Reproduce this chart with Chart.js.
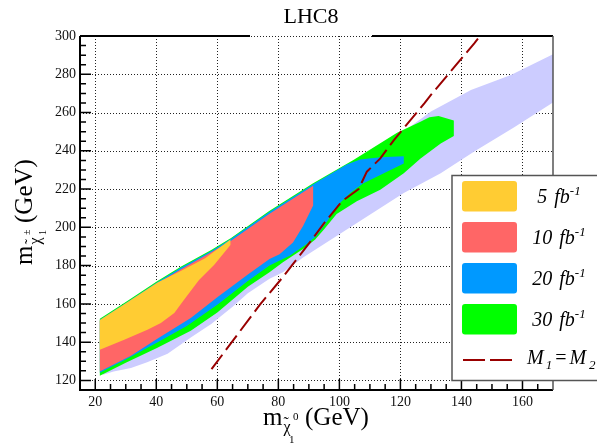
<!DOCTYPE html>
<html>
<head>
<meta charset="utf-8">
<script src="https://cdn.jsdelivr.net/npm/chart.js@4.4.1/dist/chart.umd.min.js"></script>
<style>
html, body { margin: 0; padding: 0; background: #fff; }
#wrap { width: 597px; height: 446px; position: relative; }
</style>
</head>
<body>
<div id="wrap"><canvas id="container"></canvas></div>
<script>
// axis ticks
var xTicks = [20, 40, 60, 80, 100, 120, 140, 160];
var yTicks = [120, 140, 160, 180, 200, 220, 240, 260, 280, 300];
var lumiLabels = ['5', '10', '20', '30'];

// region outlines, [m_chi0, m_chi+-] in GeV
var region5 = [[21.5,136],[21.5,151.6],[30,160.4],[40.4,171.2],[48,177.2],[56,183.8],[64.3,193.7],
  [64.3,190.8],[59,180.5],[54,172.5],[49.1,162.1],[45.9,155.2],[41.5,150],[37.1,146.5],[29.5,141.2]];

var region10 = [[21.5,124.7],[21.5,151],[30,159.8],[40.4,170.8],[48,178],[58,187],[64.5,193],[77,207],
  [91.4,221.7],[91.4,211.4],[88.1,200.7],[84.8,192.1],[80.4,186],[77.1,183.4],[69.9,175.2],[60,163.5],
  [51.3,152.6],[40.2,141.6],[31.7,132.9]];

var region20 = [[21.5,124],[21.5,151.7],[30,160.5],[40.4,171.5],[48,178.9],[58,187.7],[64.5,194],[77,208],
  [91.4,222.5],[102.4,232.8],[106.8,235.5],[113.4,236.6],[121.1,237.2],[121.1,233.4],[113.4,227.4],
  [107.9,223.1],[103.5,217.9],[99.7,211.9],[96.4,204.1],[92.5,195.5],[89.2,191.2],[83.7,185.2],
  [77.1,180],[70,172],[60,159.5],[50,148.5],[40,139.5],[30,131]];

var region30 = [[21.5,122.5],[21.5,152.2],[30,161],[40.4,172],[48,179.4],[58,188.2],[64.5,194.5],[77,208.5],
  [91.4,223],[104.6,235.2],[118.9,249.5],[126.4,255],[129.5,257.6],[132.5,258.2],[137.5,255.8],
  [137.5,247.8],[133.2,243.8],[126.6,236],[121.1,228.3],[113.4,219.7],[105.7,213.6],[99.1,207],
  [95,199],[92,193.5],[88.1,188.7],[81.5,181.8],[77.1,176.6],[70,169],[60,155.5],[51.3,146],
  [40.2,137],[30,129.3]];

var allowedBand = [[22.5,124],[40,150],[60,170],[80,195],[100,220],[120,244],[123.5,253],[130,260.5],
  [143.1,271.8],[156.2,279.6],[170.5,290.8],[170.5,265.7],[157.3,252.3],[144.2,239.6],[133.2,228.3],
  [121.1,217.9],[110.1,206.7],[99.1,195.5],[88.1,184.3],[81.5,176.6],[77.1,173.1],[70,165.5],[65,158.5],
  [58,149.5],[51.3,142.5],[43.7,134],[37,129.5],[31.7,126.5],[26,124.7],[22.5,123]];

var lineM1M2 = [[58.1,125.9],[73.9,159.5],[81,173.1],[90.3,192.1],[94.7,201.6],[100.8,213.6],[106.3,220],
  [109,229.1],[113.4,236],[117.8,245.5],[120.5,250.7],[127.9,264.9],[130,269.2],[144.2,296.2],[146.1,300]];

var lumiColors = ['#ffcc33', '#ff6666', '#0099ff', '#00ff00'];
var bandColor = '#ccccff';
var lineColor = '#990000';

function pts(a) {
  return a.map(function(p) { return {x: p[0], y: p[1]}; });
}
function area(a, color) {
  return { data: pts(a), showLine: true, fill: 'shape', backgroundColor: color,
           borderColor: 'transparent', borderWidth: 0, pointRadius: 0, tension: 0 };
}

var SERIF = '"Liberation Serif", "Times New Roman", serif';

function rich(ctx, x, y, parts) {
  parts.forEach(function(p) {
    ctx.font = p.f;
    if (p.x != null) x = p.x;
    ctx.fillText(p.t, x, y + (p.dy || 0));
    if (!p.keep) x += ctx.measureText(p.t).width + (p.gap || 0);
  });
  return x;
}

var decor = {
  id: 'decor',
  beforeDatasetsDraw: function(chart) {
    var ctx = chart.ctx, a = chart.chartArea, sx = chart.scales.x, sy = chart.scales.y;
    ctx.save();
    ctx.strokeStyle = '#222';
    ctx.lineWidth = 1;
    ctx.setLineDash([1, 2]);
    ctx.beginPath();
    xTicks.forEach(function(v) {
      var px = Math.round(sx.getPixelForValue(v)) + 0.5;
      ctx.moveTo(px, a.top); ctx.lineTo(px, a.bottom);
    });
    yTicks.forEach(function(v) {
      var py = Math.round(sy.getPixelForValue(v)) + 0.5;
      ctx.moveTo(a.left, py); ctx.lineTo(a.right, py);
    });
    ctx.stroke();
    ctx.restore();
  },
  afterDatasetsDraw: function(chart) {
    var ctx = chart.ctx, a = chart.chartArea, sx = chart.scales.x, sy = chart.scales.y;
    ctx.save();
    ctx.strokeStyle = '#000';
    ctx.lineWidth = 1.5;
    ctx.beginPath();
    for (var v = 20; v <= 165; v += 5) {
      var px = sx.getPixelForValue(v);
      var len = (v % 20 == 0) ? 11 : 6;
      ctx.moveTo(px, a.bottom); ctx.lineTo(px, a.bottom - len);
    }
    for (var w = 120; w <= 295; w += 5) {
      var py = sy.getPixelForValue(w);
      var len2 = (w % 20 == 0) ? 11 : 6;
      ctx.moveTo(a.left, py); ctx.lineTo(a.left + len2, py);
    }
    ctx.stroke();
    // frame
    ctx.lineWidth = 2;
    ctx.beginPath();
    ctx.moveTo(a.left, a.top); ctx.lineTo(a.left, a.bottom); ctx.lineTo(a.right, a.bottom);
    ctx.moveTo(a.left, a.top); ctx.lineTo(250, a.top);
    ctx.moveTo(372, a.top); ctx.lineTo(a.right, a.top);
    ctx.stroke();
    ctx.strokeStyle = '#555';
    ctx.lineWidth = 1.5;
    ctx.beginPath();
    ctx.moveTo(a.right, a.top); ctx.lineTo(a.right, a.bottom);
    ctx.stroke();
    ctx.restore();
  },
  afterDraw: function(chart) {
    var ctx = chart.ctx;
    ctx.save();
    ctx.fillStyle = '#000';
    ctx.textBaseline = 'alphabetic';
    // title
    ctx.font = '22px ' + SERIF;
    ctx.textAlign = 'center';
    ctx.fillText('LHC8', 311, 23);
    ctx.textAlign = 'left';
    // x title
    rich(ctx, 263, 425, [
      {t: 'm', f: '25px ' + SERIF, gap: 1},
      {t: '\u03c7', f: '16px ' + SERIF, dy: 7, keep: true},
      {t: '\u02dc', f: '16px ' + SERIF, dy: 3, keep: true},
      {t: '1', f: '11px ' + SERIF, dy: 18, x: 289, keep: true},
      {t: '0', f: '11px ' + SERIF, dy: -5, x: 293},
      {t: '(GeV)', f: '25px ' + SERIF, x: 305}
    ]);
    // y title
    ctx.save();
    ctx.translate(32, 265);
    ctx.rotate(-Math.PI / 2);
    rich(ctx, 0, 0, [
      {t: 'm', f: '25px ' + SERIF, gap: 1},
      {t: '\u03c7', f: '16px ' + SERIF, dy: 8, keep: true},
      {t: '\u02dc', f: '16px ' + SERIF, dy: 4, keep: true},
      {t: '\u00b1', f: '10px ' + SERIF, dy: -2, x: 30, keep: true},
      {t: '1', f: '10px ' + SERIF, dy: 14, x: 30},
      {t: '(GeV)', f: '25px ' + SERIF, x: 42}
    ]);
    ctx.restore();

    // legend
    ctx.fillStyle = '#fff';
    ctx.fillRect(452, 175.5, 160, 205);
    ctx.strokeStyle = '#555';
    ctx.lineWidth = 1.5;
    ctx.strokeRect(452, 175.5, 160, 205);
    var rowTop = [181, 222, 263, 304];
    lumiLabels.forEach(function(lab, i) {
      ctx.fillStyle = lumiColors[i];
      ctx.beginPath();
      ctx.roundRect(462, rowTop[i], 55, 30.5, 3);
      ctx.fill();
      ctx.fillStyle = '#000';
      var base = rowTop[i] + 22;
      ctx.font = 'italic 20px ' + SERIF;
      var w = ctx.measureText(lab).width + 7 + ctx.measureText('fb').width;
      ctx.font = 'italic 13px ' + SERIF;
      w += ctx.measureText('-1').width;
      rich(ctx, 559 - w / 2, base, [
        {t: lab, f: 'italic 20px ' + SERIF, gap: 7},
        {t: 'fb', f: 'italic 20px ' + SERIF},
        {t: '-1', f: 'italic 13px ' + SERIF, dy: -8}
      ]);
    });
    ctx.strokeStyle = lineColor;
    ctx.lineWidth = 2;
    ctx.beginPath();
    ctx.moveTo(463, 360); ctx.lineTo(485, 360);
    ctx.moveTo(490, 360); ctx.lineTo(512, 360);
    ctx.stroke();
    ctx.fillStyle = '#000';
    rich(ctx, 527, 364, [
      {t: 'M', f: 'italic 20px ' + SERIF, gap: 2},
      {t: '1', f: 'italic 13px ' + SERIF, dy: 5, gap: 3},
      {t: '=', f: '20px ' + SERIF, gap: 3},
      {t: 'M', f: 'italic 20px ' + SERIF, gap: 3},
      {t: '2', f: 'italic 13px ' + SERIF, dy: 5}
    ]);
    ctx.restore();
  }
};

var tickFont = { family: SERIF, size: 14 };

new Chart(document.getElementById('container'), {
  type: 'scatter',
  data: {
    datasets: [
      { data: pts(lineM1M2), showLine: true, fill: false, borderColor: lineColor, borderWidth: 2,
        borderDash: [18, 6], pointRadius: 0, tension: 0 },
      area(region5, lumiColors[0]),
      area(region10, lumiColors[1]),
      area(region20, lumiColors[2]),
      area(region30, lumiColors[3]),
      area(allowedBand, bandColor)
    ]
  },
  options: {
    responsive: true,
    maintainAspectRatio: false,
    animation: false,
    events: [],
    layout: { padding: { left: 0, right: 44, top: 36, bottom: 0 } },
    plugins: { legend: { display: false }, tooltip: { enabled: false }, title: { display: false } },
    scales: {
      x: {
        type: 'linear', min: 15, max: 170,
        grid: { display: false, drawTicks: false },
        border: { display: false },
        afterBuildTicks: function(s) { s.ticks = xTicks.map(function(v) { return {value: v}; }); },
        afterFit: function(s) { s.height = 56; },
        ticks: { font: tickFont, color: '#111', padding: 4, maxRotation: 0, autoSkip: false }
      },
      y: {
        type: 'linear', min: 115, max: 300,
        grid: { display: false, drawTicks: false },
        border: { display: false },
        afterBuildTicks: function(s) { s.ticks = yTicks.map(function(v) { return {value: v}; }); },
        afterFit: function(s) { s.width = 80; },
        ticks: { font: tickFont, color: '#111', padding: 4, autoSkip: false }
      }
    }
  },
  plugins: [decor]
});
</script>
</body>
</html>
